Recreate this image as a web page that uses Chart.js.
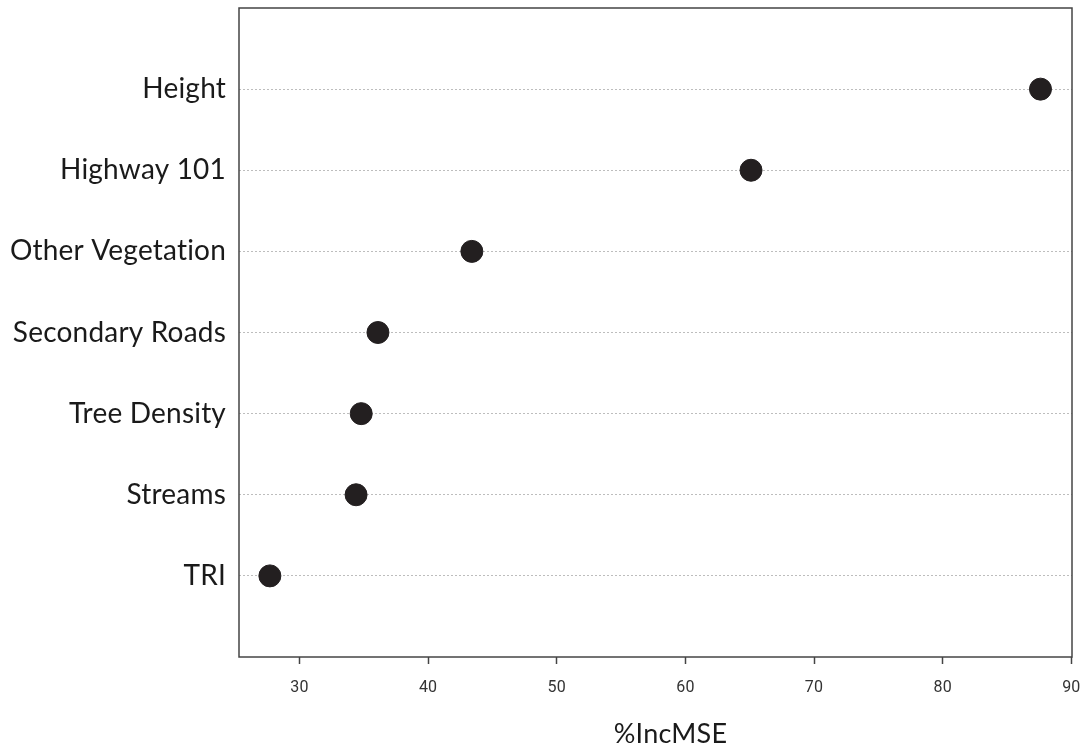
<!DOCTYPE html>
<html>
<head>
<meta charset="utf-8">
<script src="https://cdn.jsdelivr.net/npm/chart.js@4"></script>
<style>
  html, body { margin: 0; padding: 0; background: #fff; }
  #wrap { width: 1086px; height: 750px; }
</style>
</head>
<body>
<div id="wrap"><canvas id="chart"></canvas></div>
<script>
// variable importance (%IncMSE), top to bottom
const variables = ['Height', 'Highway 101', 'Other Vegetation', 'Secondary Roads', 'Tree Density', 'Streams', 'TRI'];
const incMSE = [87.6, 65.1, 43.4, 36.1, 34.8, 34.4, 27.7];
const xTicks = [30, 40, 50, 60, 70, 80, 90];
const xTitle = '%IncMSE';

const labelFont = 'Lato, "Open Sans", sans-serif';
const noPadding = () => ({ left: 0, top: 0, right: 0, bottom: 0 });

// frame around the plotting area + axis title under the ticks
const boxPlugin = {
    id: 'box',
    beforeDraw(chart) {
        // a tiny letter spacing keeps Lato from using its "ti" ligature
        chart.ctx.letterSpacing = '0.2px';
    },
    afterDraw(chart) {
        const { ctx, chartArea: a } = chart;
        ctx.save();
        ctx.strokeStyle = '#444';
        ctx.lineWidth = 1.5;
        ctx.strokeRect(a.left, a.top, a.right - a.left, a.bottom - a.top);

        ctx.fillStyle = '#1a1a1a';
        ctx.font = '27px ' + labelFont;
        ctx.textAlign = 'center';
        ctx.textBaseline = 'middle';
        ctx.fillText(xTitle, (a.left + a.right) / 2 + 15, a.bottom + 77);
        ctx.restore();
    }
};

const points = incMSE.map((v, i) => ({ x: v, y: i + 1 }));

new Chart(document.getElementById('chart'), {
    type: 'scatter',
    data: {
        datasets: [{
            data: points,
            backgroundColor: '#231f20',
            borderColor: '#231f20',
            pointRadius: 11,
            pointHoverRadius: 11
        }]
    },
    options: {
        responsive: true,
        maintainAspectRatio: false,
        animation: false,
        layout: { autoPadding: false, padding: { top: 8, right: 14, left: 0, bottom: 0 } },
        plugins: {
            legend: { display: false },
            tooltip: { enabled: false }
        },
        scales: {
            x: {
                type: 'linear',
                min: 25.3,
                max: 90.05,
                afterBuildTicks: (scale) => { scale.ticks = xTicks.map(v => ({ value: v })); },
                afterFit: (scale) => {
                    scale.height = 93;
                    scale.getPadding = noPadding;
                },
                grid: {
                    drawOnChartArea: false,
                    drawTicks: true,
                    tickLength: 7,
                    tickColor: '#444',
                    tickWidth: 1.5
                },
                border: { display: false },
                ticks: {
                    color: '#333',
                    font: { family: 'Roboto, Arial, sans-serif', size: 16 },
                    padding: 14,
                    maxRotation: 0
                }
            },
            y: {
                type: 'linear',
                reverse: true,
                min: 0,
                max: 8,
                afterBuildTicks: (scale) => { scale.ticks = variables.map((_, i) => ({ value: i + 1 })); },
                afterFit: (scale) => {
                    scale.width = 239;
                    scale.getPadding = noPadding;
                },
                grid: {
                    drawTicks: false,
                    color: '#bdbdbd',
                    lineWidth: 1
                },
                border: { display: false, dash: [2, 2] },
                ticks: {
                    color: '#1a1a1a',
                    font: { family: labelFont, size: 28 },
                    padding: 13,
                    callback: (v) => variables[v - 1]
                }
            }
        }
    },
    plugins: [boxPlugin]
});
</script>
</body>
</html>
